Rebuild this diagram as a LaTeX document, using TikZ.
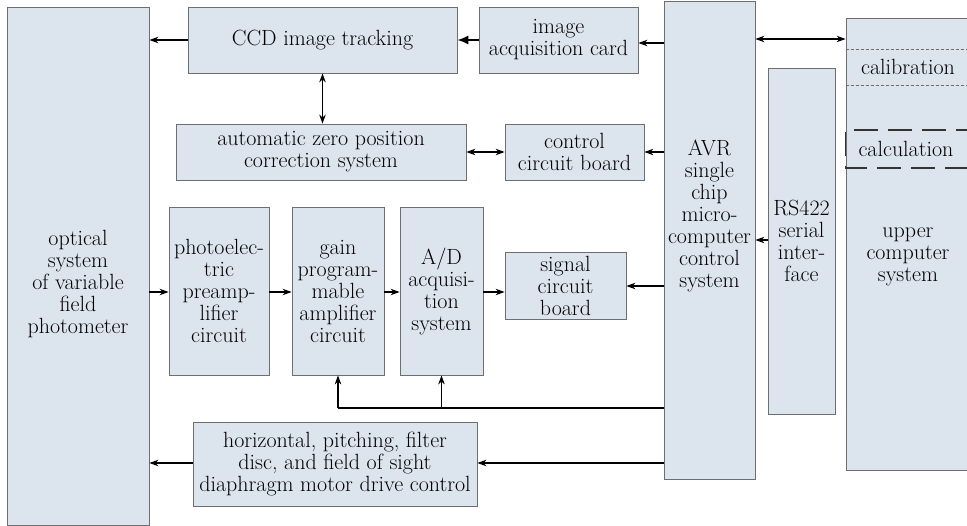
\documentclass[tikz,border=0pt]{standalone}
\usetikzlibrary{arrows.meta}
\definecolor{boxfill}{HTML}{DCE4EE}
\definecolor{boxline}{HTML}{6E6E6E}
\begin{document}
\begin{tikzpicture}[x=1pt,y=-1pt,
  box/.style={draw=boxline, fill=boxfill, line width=0.8pt, inner sep=0pt,
    align=center, font=\fontsize{22}{22}\selectfont},
  lbl/.style={inner sep=0pt, align=center, font=\fontsize{22}{22}\selectfont},
  arr/.style={-{Stealth[length=9pt,width=6.5pt,inset=3pt]}, line width=1.2pt},
  darr/.style={{Stealth[length=9pt,width=6.5pt,inset=3pt]}-{Stealth[length=9pt,width=6.5pt,inset=3pt]}, line width=1.2pt},
  bigarr/.style={-{Latex[length=11pt,width=9pt]}, line width=1.4pt},
  bus/.style={line width=1.8pt}]
\useasboundingbox (0,0) rectangle (967,526);

% main blocks
\node[box, minimum width=142pt, minimum height=518pt] (opt) at (78,266) {};
\node[lbl] (optt) at (78,284) {optical\\system\\of variable\\field\\photometer};
\node[box, minimum width=269pt, minimum height=66pt] (ccd) at (322.5,40) {CCD image tracking};
\node[box, minimum width=159pt, minimum height=66pt] (iac) at (558.5,40) {image\\acquisition card};
\node[box, minimum width=91pt, minimum height=478pt] (avr) at (709.5,240) {};
\node[lbl] (avrt) at (709.5,216) {AVR\\single\\chip\\micro-\\computer\\control\\system};
\node[box, minimum width=67pt, minimum height=346pt] (rs) at (801.5,241) {RS422\\serial\\inter-\\face};
\node[box, minimum width=132pt, minimum height=452pt] (up) at (912,244) {};
\node[lbl] (upt) at (908,257) {upper\\computer\\system};
\node[box, minimum width=290pt, minimum height=56pt] (auto) at (321,152) {automatic zero position\\correction system};
\node[box, minimum width=139pt, minimum height=56pt] (ccb) at (574.5,152) {control\\circuit board};
\node[box, minimum width=100pt, minimum height=168pt] (pe) at (219,291) {photoelec-\\tric\\preamp-\\lifier\\circuit};
\node[box, minimum width=92pt, minimum height=168pt] (gain) at (338,291) {gain\\program-\\mable\\amplifier\\circuit};
\node[box, minimum width=83pt, minimum height=168pt] (ad) at (441.5,291) {A/D\\acquisi-\\tion\\system};
\node[box, minimum width=121pt, minimum height=67pt] (sig) at (565.5,285.5) {signal\\circuit\\board};
\node[box, minimum width=284pt, minimum height=84pt] (hor) at (335,464) {horizontal, pitching, filter\\disc, and field of sight\\diaphragm motor drive control};

% sub-areas of the upper computer
\draw[boxline, densely dashed, line width=0.5pt] (up.west |- 0,49) -- (980,49);
\draw[boxline, densely dashed, line width=0.5pt] (up.west |- 0,85) -- (980,85);
\node[lbl] (cal) at (908,67) {calibration};
\draw[black!80, dash pattern=on 24pt off 10pt, line width=1.5pt]
  (980,130) -- (up.west |- 0,130) -- (up.west |- 0,168) -- (980,168);
\node[lbl] (calc) at (906,149) {calculation};

% connectors
\draw[arr] (ccd.west) -- (ccd.west -| opt.east);
\draw[bigarr] (iac.west) -- (ccd.east);
\draw[arr] (avr.west |- 0,43) -- (iac.east |- 0,43);
\draw[darr] (avr.east |- 0,39) -- (up.west |- 0,39);
\draw[darr] (ccd.south) -- (ccd.south |- auto.north);
\draw[darr] (auto.east) -- (ccb.west);
\draw[arr] (avr.west |- ccb.east) -- (ccb.east);
\draw[arr] (opt.east |- 0,292) -- (pe.west |- 0,292);
\draw[arr] (pe.east |- 0,292) -- (gain.west |- 0,292);
\draw[arr] (gain.east |- 0,292) -- (ad.west |- 0,292);
\draw[arr] (ad.east |- 0,292) -- (sig.west |- 0,292);
\draw[arr] (avr.west |- 0,286) -- (sig.east |- 0,286);
\draw[arr] (rs.west |- 0,240) -- (avr.east |- 0,240);
\coordinate (busR) at (avr.west |- 0,408);
\coordinate (busL) at (gain.south |- 0,408);
\coordinate (busM) at (ad.south |- 0,408);
\draw[bus] (busR) -- (busL);
\draw[arr, line width=1.8pt] (busL) -- (gain.south);
\draw[arr, line width=1.8pt] (busM) -- (ad.south);
\draw[arr] (avr.west |- 0,463) -- (hor.east |- 0,463);
\draw[arr] (hor.west |- 0,463) -- (opt.east |- 0,463);
\end{tikzpicture}
\end{document}
